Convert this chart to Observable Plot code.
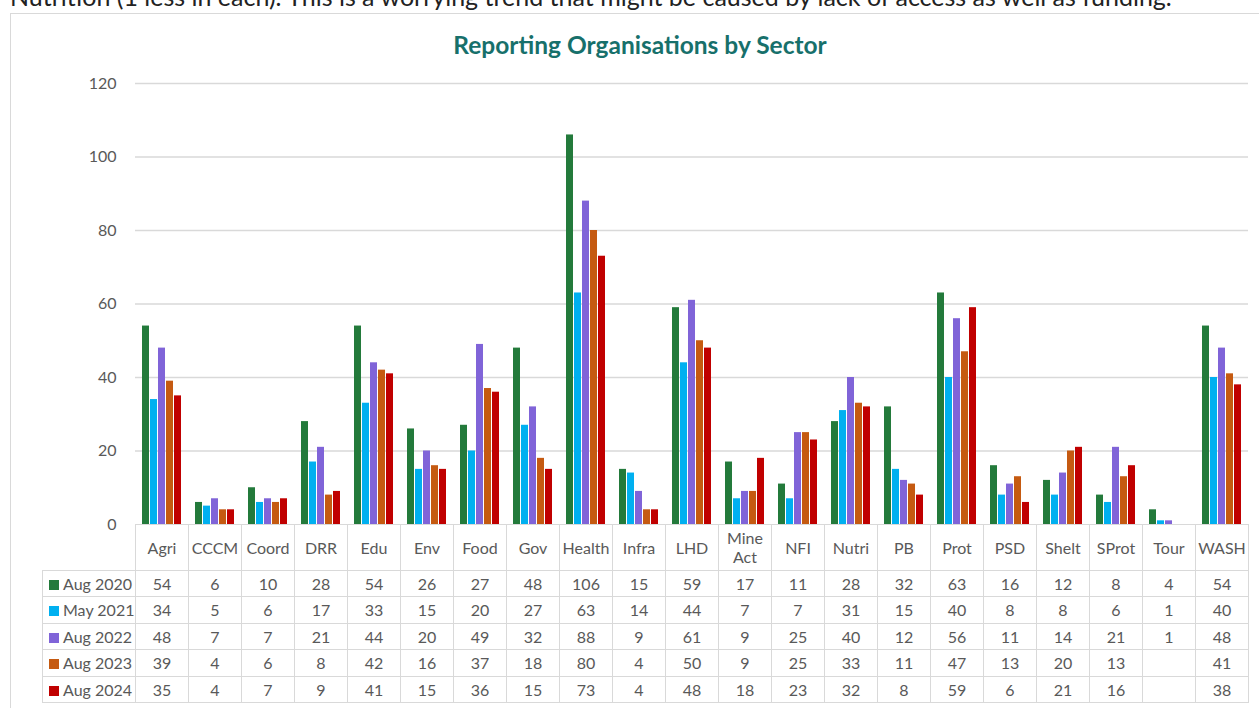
<!DOCTYPE html>
<html>
<head>
<meta charset="utf-8">
<script src="https://cdn.jsdelivr.net/npm/d3@7"></script>
<script src="https://cdn.jsdelivr.net/npm/@observablehq/plot@0.6"></script>
<style>
  html, body { margin: 0; padding: 0; background: #fff; overflow: hidden; }
  body { width: 1259px; height: 708px; position: relative; font-family: Lato, "Open Sans", sans-serif; }
  #intro { position: absolute; left: 10px; top: -16px; font-size: 25px; line-height: 25px; color: #222; white-space: nowrap; }
  #box { position: absolute; left: 10px; top: 13px; width: 1270px; height: 720px; border: 1px solid #d9d9d9; box-sizing: border-box; }
  #title { position: absolute; left: 0; width: 1280px; top: 30px; text-align: center; font-size: 24.5px; font-weight: bold; color: #17706b; }
  #chart { position: absolute; left: 0; top: 0; }
  #tbl { position: absolute; left: 42px; top: 524px; border-collapse: collapse; table-layout: fixed; font-size: 16px; color: #595959; }
  #tbl td { border: 1.5px solid #d9d9d9; text-align: center; padding: 0; height: 25.5px; overflow: hidden; white-space: nowrap; }
  #tbl tr.hdr td { height: 44.5px; line-height: 19px; white-space: normal; }
  #tbl td.blank { border-top: none; border-left: none; }
  #tbl td.lab { text-align: left; padding-left: 6px; }
  .sw { display: inline-block; width: 10px; height: 10px; margin-right: 4px; vertical-align: 0px; }
</style>
</head>
<body>
<div id="intro">Nutrition (1 less in each). This is a worrying trend that might be caused by lack of access as well as funding.</div>
<div id="box"></div>
<div id="chart"></div>
<div id="title">Reporting Organisations by Sector</div>
<table id="tbl"></table>
<script>
const sectors = ["Agri","CCCM","Coord","DRR","Edu","Env","Food","Gov","Health","Infra","LHD","Mine Act","NFI","Nutri","PB","Prot","PSD","Shelt","SProt","Tour","WASH"];
const seriesNames = ["Aug 2020","May 2021","Aug 2022","Aug 2023","Aug 2024"];
const seriesColors = ["#237a3b","#00b0f0","#8064d8","#c55a11","#c00000"];
const aug2020 = [54,6,10,28,54,26,27,48,106,15,59,17,11,28,32,63,16,12,8,4,54];
const may2021 = [34,5,6,17,33,15,20,27,63,14,44,7,7,31,15,40,8,8,6,1,40];
const aug2022 = [48,7,7,21,44,20,49,32,88,9,61,9,25,40,12,56,11,14,21,1,48];
const aug2023 = [39,4,6,8,42,16,37,18,80,4,50,9,25,33,11,47,13,20,13,null,41];
const aug2024 = [35,4,7,9,41,15,36,15,73,4,48,18,23,32,8,59,6,21,16,null,38];
const yTicks = [0,20,40,60,80,100,120];

const seriesValues = [aug2020, may2021, aug2022, aug2023, aug2024];

// each sector gets one band; the five series bars sit side by side inside it
const band = (1259 - 135 - 11) / sectors.length;
const barW = 7, gap = 1;
const groupW = seriesNames.length * barW + (seriesNames.length - 1) * gap;
const startOff = (band - groupW) / 2;

const barMarks = seriesNames.map((s, i) => {
  const rows = [];
  sectors.forEach((sec, j) => {
    const v = seriesValues[i][j];
    if (v != null) rows.push({sector: sec, series: s, value: v});
  });
  const left = startOff + i * (barW + gap);
  return Plot.barY(rows, {x: "sector", y: "value", fill: "series", insetLeft: left, insetRight: band - left - barW});
});

const chart = Plot.plot({
  width: 1259,
  height: 708,
  marginLeft: 135,
  marginRight: 11,
  marginTop: 83,
  marginBottom: 184,
  style: {fontFamily: "Lato, 'Open Sans', sans-serif", fontSize: "16px", color: "#595959", background: "transparent"},
  x: {domain: sectors, padding: 0, axis: null},
  y: {domain: [0, 120], ticks: yTicks, label: null},
  color: {domain: seriesNames, range: seriesColors},
  marks: [
    Plot.gridY(yTicks.filter(d => d > 0), {stroke: "#d9d9d9", strokeOpacity: 1, strokeWidth: 1.5}),
    Plot.axisY(yTicks, {tickSize: 0, tickPadding: 19, label: null, fill: "#595959"}),
    ...barMarks
  ]
});
document.getElementById("chart").appendChild(chart);

// data table (acts as the category axis + legend)
const tbl = document.getElementById("tbl");
const colg = document.createElement("colgroup");
let c0 = document.createElement("col"); c0.style.width = "93px"; colg.appendChild(c0);
sectors.forEach(() => { const c = document.createElement("col"); c.style.width = band + "px"; colg.appendChild(c); });
tbl.appendChild(colg);
const hdr = document.createElement("tr"); hdr.className = "hdr";
const b = document.createElement("td"); b.className = "blank"; hdr.appendChild(b);
sectors.forEach(s => { const td = document.createElement("td"); td.innerHTML = s.replace(" ", "<br>"); hdr.appendChild(td); });
tbl.appendChild(hdr);
seriesNames.forEach((s, i) => {
  const tr = document.createElement("tr");
  const lab = document.createElement("td"); lab.className = "lab";
  lab.innerHTML = `<span class="sw" style="background:${seriesColors[i]}"></span>${s}`;
  tr.appendChild(lab);
  seriesValues[i].forEach(v => { const td = document.createElement("td"); td.textContent = v == null ? "" : v; tr.appendChild(td); });
  tbl.appendChild(tr);
});
</script>
</body>
</html>
